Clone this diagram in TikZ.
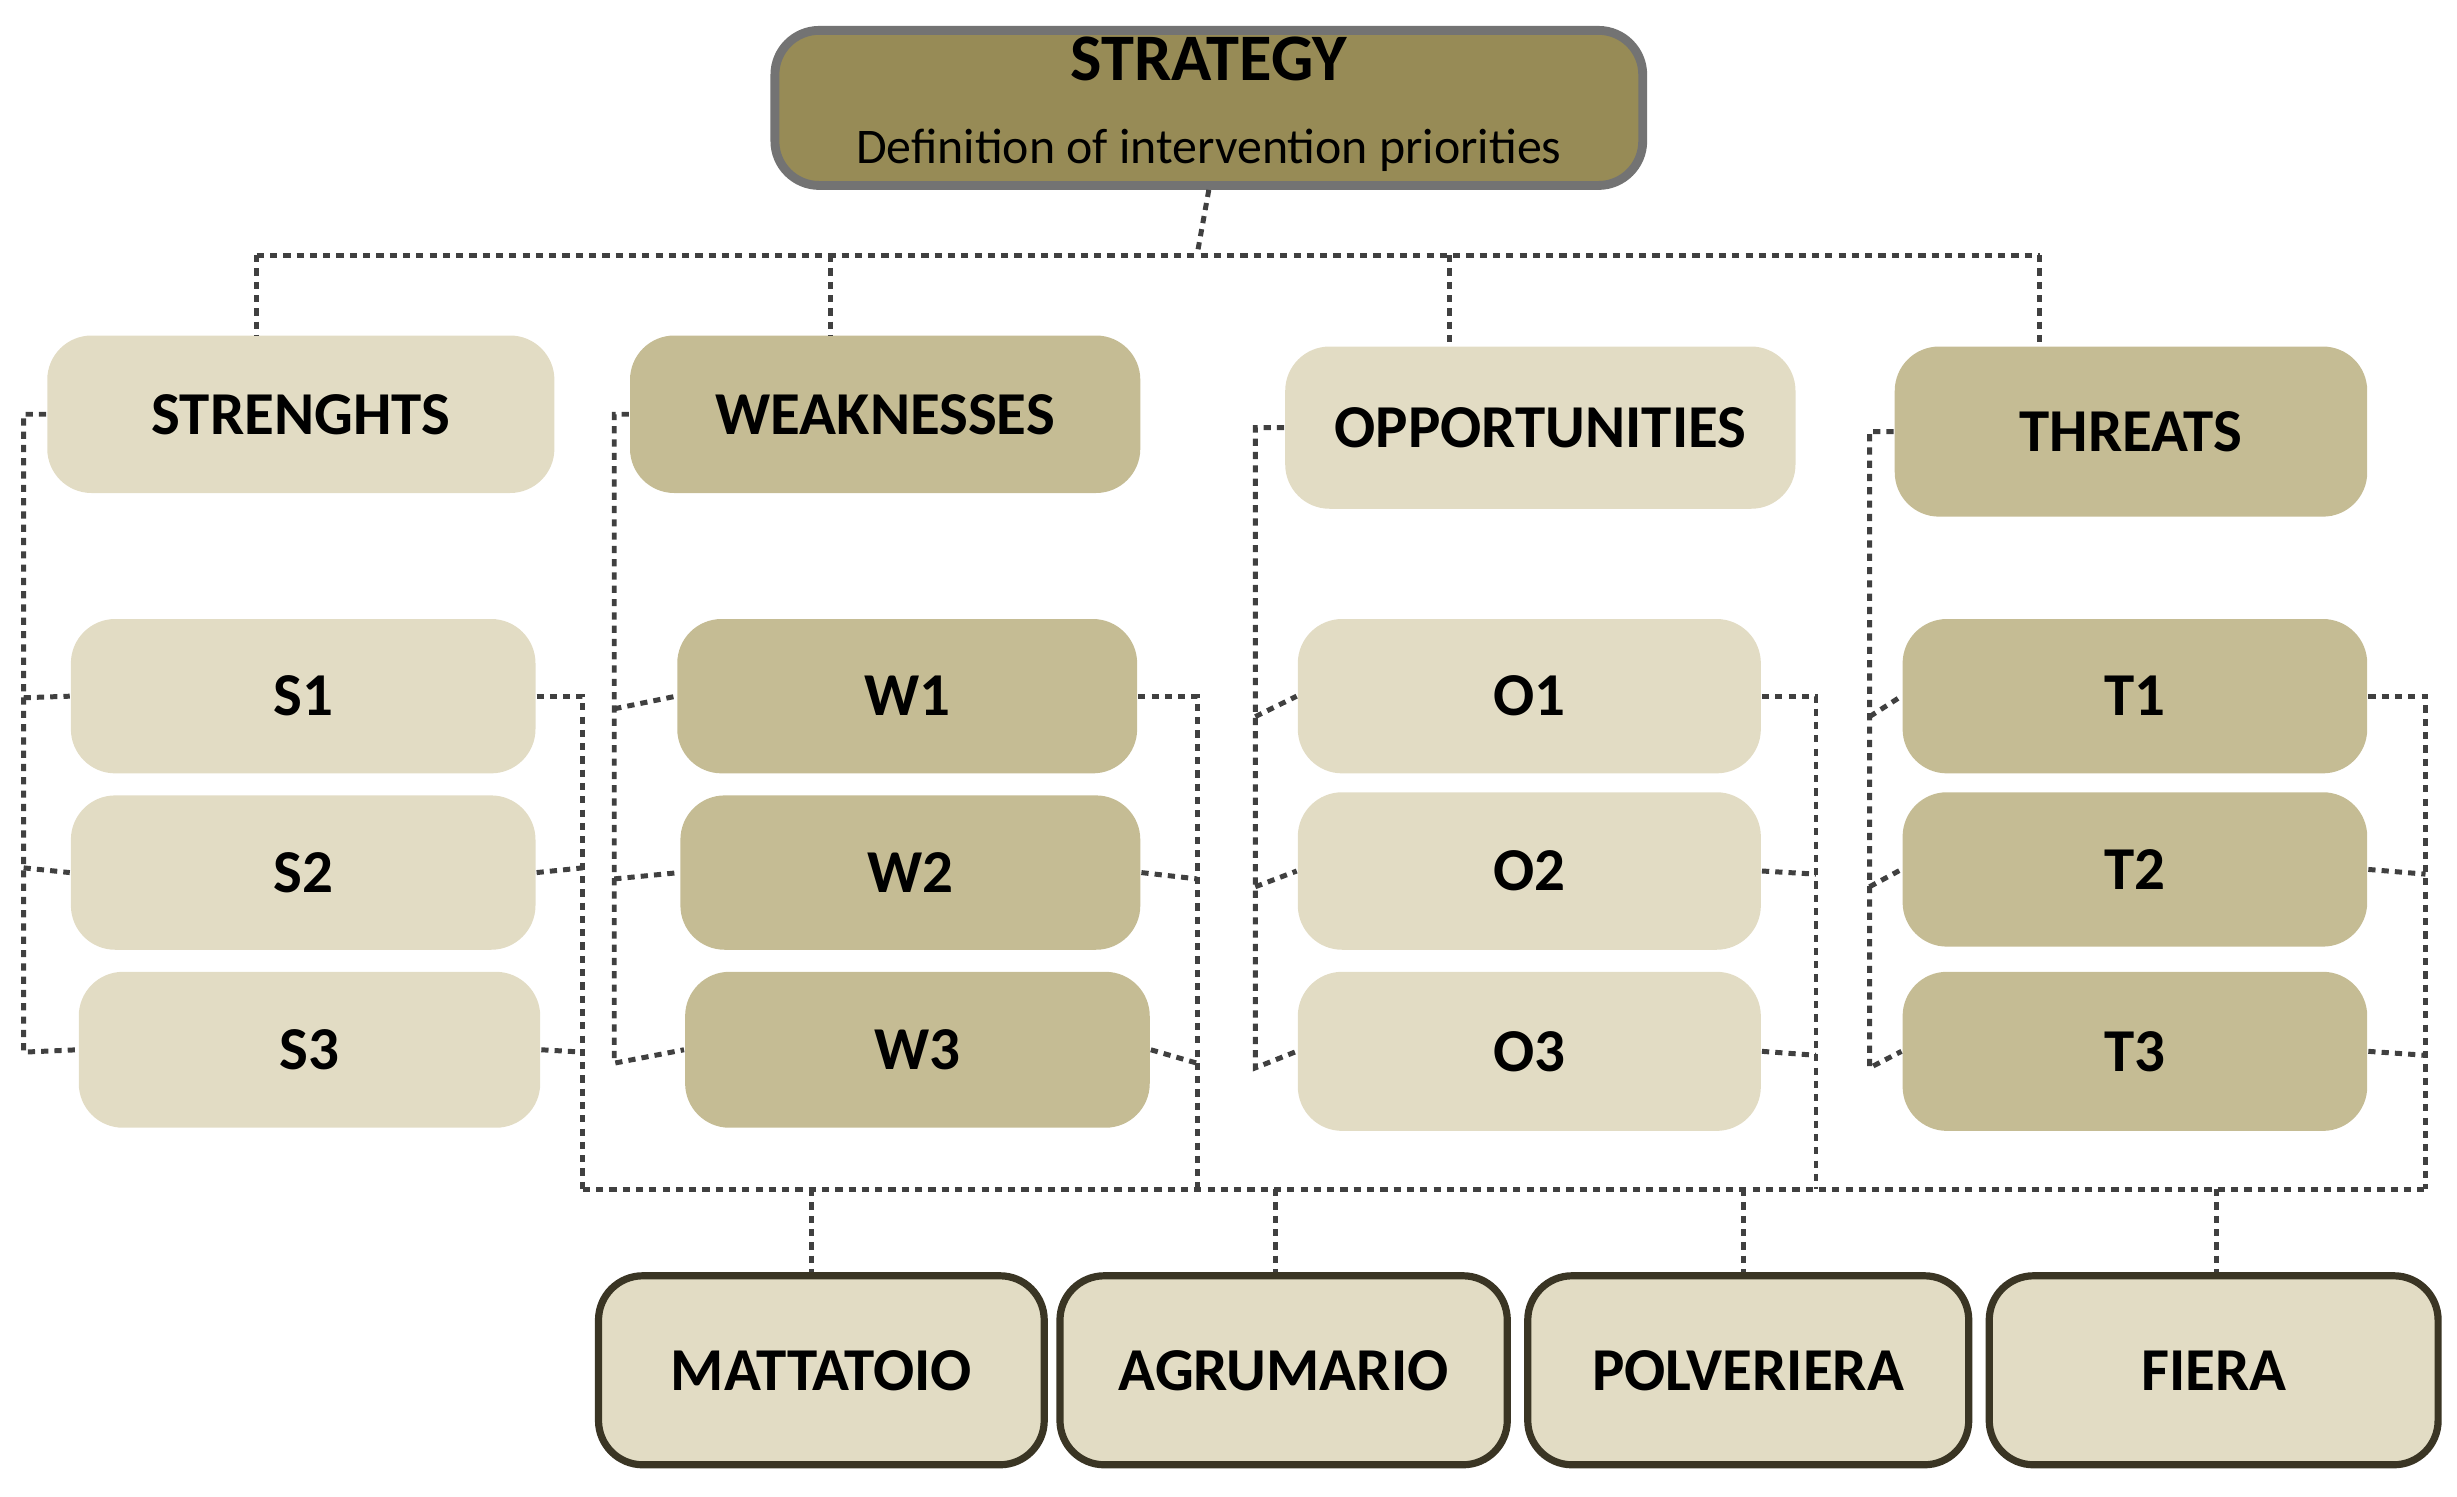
\documentclass[tikz,border=0pt]{standalone}
\usepackage{fontspec}
\setmainfont{Carlito}
\begin{document}
\begin{tikzpicture}[x=0.01cm,y=-0.01cm,
 box/.style={rounded corners=8pt,draw=none,font=\bfseries\fontsize{11}{13}\selectfont,text=black,inner sep=0pt},
 lt/.style={box,fill=light},
 dk/.style={box,fill=darkb},
 bot/.style={box,fill=light,draw=edge,line width=1.3pt},
 dl/.style={draw=black!75,line width=0.9pt,dash pattern=on 1.3pt off 1.1pt}]
\definecolor{light}{HTML}{E2DCC4}
\definecolor{darkb}{HTML}{C5BC94}
\definecolor{olive}{HTML}{978B56}
\definecolor{edge}{HTML}{3A3524}
\useasboundingbox (0,0) rectangle (1560,950);
\newcommand\bx[7]{\node[#6,minimum width={(#4-#2)*0.01cm},minimum height={(#5-#3)*0.01cm}] (#1) at ({(#2+#4)/2},{(#3+#5)/2}) {#7};}
\bx{st}{492}{20}{1043}{117}{box,fill=olive,draw=black!55,line width=1.6pt}{\begin{tabular}{c}\fontsize{12}{14}\selectfont STRATEGY\\[2pt]\mdseries\fontsize{9}{11}\selectfont Definition of intervention priorities\end{tabular}}
\bx{S}{30}{213}{352}{313}{lt}{STRENGHTS}
\bx{W}{400}{213}{724}{313}{dk}{WEAKNESSES}
\bx{O}{816}{220}{1140}{323}{lt}{OPPORTUNITIES}
\bx{T}{1203}{220}{1503}{328}{dk}{THREATS}
\bx{S1}{45}{393}{340}{491}{lt}{S1}
\bx{S2}{45}{505}{340}{603}{lt}{S2}
\bx{S3}{50}{617}{343}{716}{lt}{S3}
\bx{W1}{430}{393}{722}{491}{dk}{W1}
\bx{W2}{432}{505}{724}{603}{dk}{W2}
\bx{W3}{435}{617}{730}{716}{dk}{W3}
\bx{O1}{824}{393}{1118}{491}{lt}{O1}
\bx{O2}{824}{503}{1118}{603}{lt}{O2}
\bx{O3}{824}{617}{1118}{718}{lt}{O3}
\bx{T1}{1208}{393}{1503}{491}{dk}{T1}
\bx{T2}{1208}{503}{1503}{601}{dk}{T2}
\bx{T3}{1208}{617}{1503}{718}{dk}{T3}
\bx{M}{380}{810}{663}{930}{bot}{MATTATOIO}
\bx{A}{673}{810}{957}{930}{bot}{AGRUMARIO}
\bx{P}{970}{810}{1250}{930}{bot}{POLVERIERA}
\bx{F}{1263}{810}{1548}{930}{bot}{FIERA}
% top tree
\draw[dl] (st.south) -- (760,162);
\draw[dl] (163,162) -- (1295,162);
\draw[dl] (163,162) -- (163,213);
\draw[dl] (527,162) -- (527,213);
\draw[dl] (920,162) -- (920,220);
\draw[dl] (1295,162) -- (1295,220);
% left brackets
\draw[dl] (S.west) -| (15,668) -- (S3.west);
\draw[dl] (15,443) -- (S1.west); \draw[dl] (15,551) -- (S2.west);
\draw[dl] (W.west) -| (390,675) -- (W3.west);
\draw[dl] (390,450) -- (W1.west); \draw[dl] (390,558) -- (W2.west);
\draw[dl] (O.west) -| (797,678) -- (O3.west);
\draw[dl] (797,455) -- (O1.west); \draw[dl] (797,563) -- (O2.west);
\draw[dl] (T.west) -| (1187,678) -- (T3.west);
\draw[dl] (1187,455) -- (T1.west); \draw[dl] (1187,563) -- (T2.west);
% right brackets
\draw[dl] (S1.east) -| (370,755); \draw[dl] (S2.east) -- (370,551); \draw[dl] (S3.east) -- (370,668);
\draw[dl] (W1.east) -| (760,755); \draw[dl] (W2.east) -- (760,558); \draw[dl] (W3.east) -- (760,675);
\draw[dl] (O1.east) -| (1153,755); \draw[dl] (O2.east) -- (1153,555); \draw[dl] (O3.east) -- (1153,670);
\draw[dl] (T1.east) -| (1540,755); \draw[dl] (T2.east) -- (1540,555); \draw[dl] (T3.east) -- (1540,670);
\draw[dl] (370,755) -- (1540,755);
\draw[dl] (515,755) -- (M.north-|515,0);
\draw[dl] (810,755) -- (A.north-|810,0);
\draw[dl] (1107,755) -- (P.north-|1107,0);
\draw[dl] (1407,755) -- (F.north-|1407,0);
\end{tikzpicture}
\end{document}
